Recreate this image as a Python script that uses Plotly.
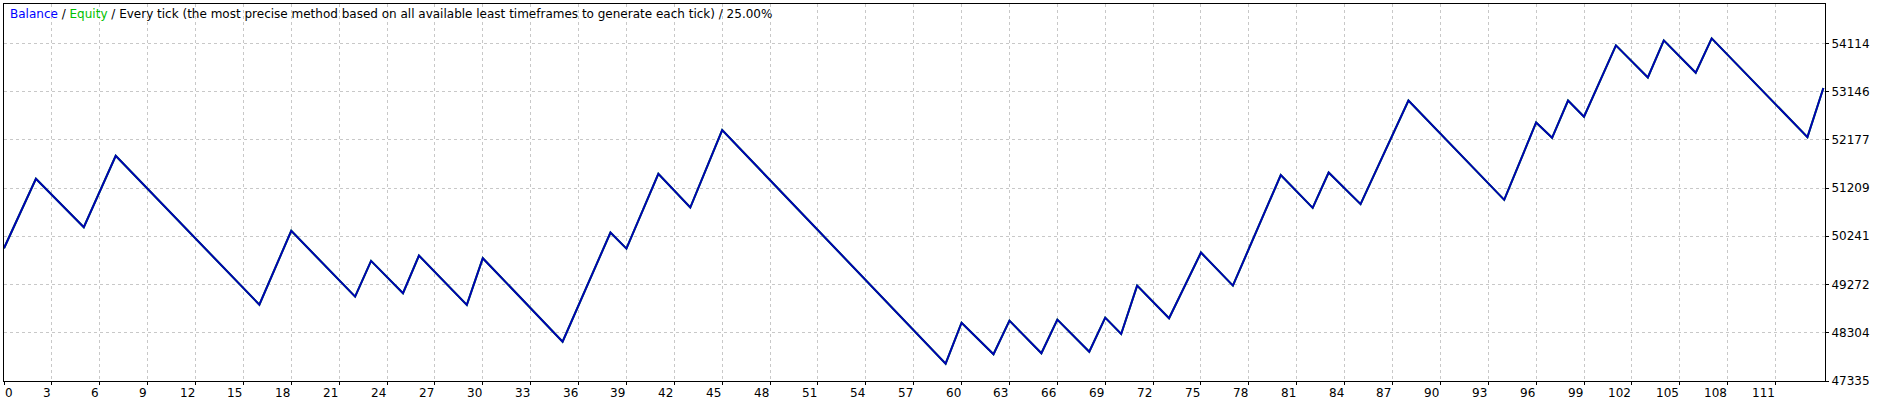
import plotly.graph_objects as go

# Balance curve vertices (trade number, balance)
trade_no = [0, 2, 5, 7, 16, 18, 22, 23, 25, 26, 29, 30, 35, 38, 39, 41, 43, 45,
            59, 60, 62, 63, 65, 66, 68, 69, 70, 71, 73, 75, 77, 80, 82, 83, 85,
            88, 94, 96, 97, 98, 99, 101, 103, 104, 106, 107, 113, 114]
balance = [50000, 51393, 50423, 51856, 48868, 50349, 49029, 49746, 49097, 49853,
           48862, 49800, 48125, 50315, 49993, 51494, 50817, 52372,
           47683, 48506, 47871, 48546, 47891, 48567, 47924, 48607, 48279, 49250,
           48595, 49913, 49250, 51468, 50811, 51520, 50885,
           52966, 50972, 52525, 52217, 52966, 52639, 54072, 53429, 54172, 53523,
           54212, 52231, 53216]
equity = list(balance)

x_ticks = list(range(0, 112, 3))
y_ticks = [47335, 48304, 49272, 50241, 51209, 52177, 53146, 54114]
y_tick_labels = [str(v) for v in y_ticks]

title_parts = ["Balance", "Equity",
               "Every tick (the most precise method based on all available least timeframes to generate each tick)",
               "25.00%"]

BLUE = "#0000B4"
GREEN = "#00B400"
GRID = "#C8C8C8"
FONT = "DejaVu Sans"

fig = go.Figure()
fig.add_trace(go.Scatter(x=trade_no, y=equity, mode="lines",
                         line=dict(color=GREEN, width=2), hoverinfo="skip",
                         showlegend=False))
fig.add_trace(go.Scatter(x=trade_no, y=balance, mode="lines",
                         line=dict(color=BLUE, width=2), showlegend=False))

fig.update_layout(
    width=1889, height=404,
    margin=dict(l=4, r=64, t=4, b=23, pad=0),
    paper_bgcolor="white", plot_bgcolor="white",
    font=dict(family=FONT, size=12, color="black"),
    showlegend=False,
)
fig.update_xaxes(
    range=[0, 114.1], tickvals=x_ticks, showticklabels=False,
    ticks="outside", ticklen=3, tickcolor="black",
    showgrid=True, gridcolor=GRID, griddash="3px,3px", gridwidth=1,
    showline=True, mirror=True, linecolor="black", linewidth=1, zeroline=False,
)
fig.update_yaxes(
    side="right", range=[47335, 54903], tickvals=y_ticks, ticktext=y_tick_labels,
    ticks="outside", ticklen=3, tickcolor="black",
    tickfont=dict(family=FONT, size=12, color="black"),
    showgrid=True, gridcolor=GRID, griddash="3px,3px", gridwidth=1,
    showline=True, mirror=True, linecolor="black", linewidth=1, zeroline=False,
)

# x tick labels, right-aligned to their tick like the original
for t in x_ticks:
    fig.add_annotation(x=t, xref="x", y=0, yref="paper", text=str(t),
                       showarrow=False, xanchor="left" if t == 0 else "right",
                       yanchor="middle", yshift=-11.5,
                       xshift=-1 if t == 0 else 1,
                       font=dict(family=FONT, size=12, color="black"))

title_html = (f'<span style="color:#0000FF">{title_parts[0]}</span> / '
              f'<span style="color:#00C000">{title_parts[1]}</span> / '
              f'{title_parts[2]} / {title_parts[3]}')
fig.add_annotation(x=0, xref="paper", y=1, yref="paper", text=title_html,
                   showarrow=False, xanchor="left", yanchor="middle",
                   xshift=4, yshift=-10,
                   font=dict(family=FONT, size=12, color="black"))

fig.write_html("out.html", config={"displayModeBar": False},
               post_script="document.body.style.margin='0';document.body.style.overflow='hidden';")
